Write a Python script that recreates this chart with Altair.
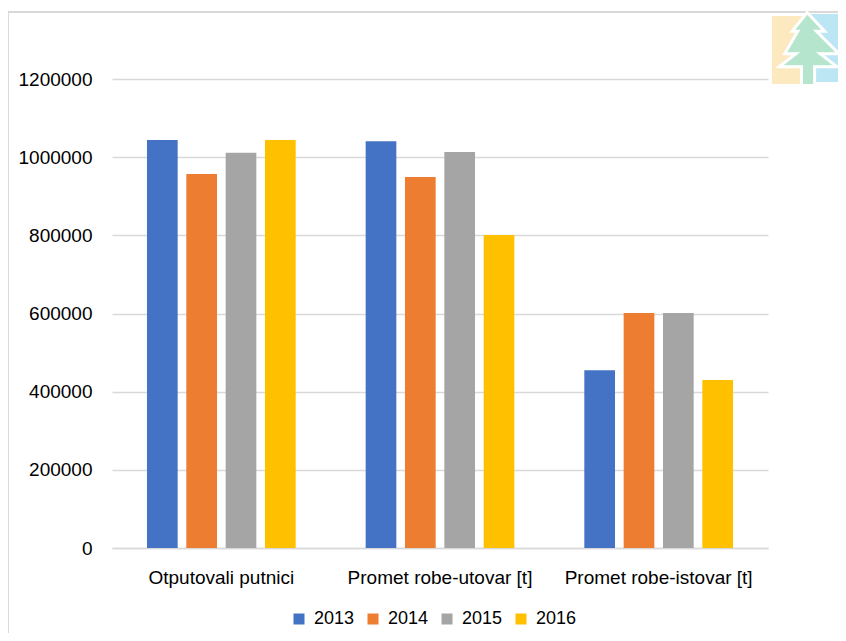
import altair as alt
import pandas as pd

categories = ["Otputovali putnici", "Promet robe-utovar [t]", "Promet robe-istovar [t]"]
years = ["2013", "2014", "2015", "2016"]
v2013 = [1044000, 1041000, 455000]
v2014 = [957000, 949000, 601000]
v2015 = [1011000, 1013000, 601000]
v2016 = [1044000, 801000, 430000]
colors = ["#4472C4", "#ED7D31", "#A5A5A5", "#FFC000"]
y_ticks = [0, 200000, 400000, 600000, 800000, 1000000, 1200000]

rows = []
for yr, vals in zip(years, [v2013, v2014, v2015, v2016]):
    for c, v in zip(categories, vals):
        rows.append({"category": c, "year": yr, "value": v})
df = pd.DataFrame(rows)

FONT = "Liberation Sans, Arial, sans-serif"
GRID = "#d9d9d9"

one = pd.DataFrame({"a": [0]})

border = alt.Chart(one).mark_rect(fillOpacity=0, stroke=GRID, strokeWidth=2).encode(
    x=alt.value(-104), x2=alt.value(800), y=alt.value(-67), y2=alt.value(700)
)

logo_beige = alt.Chart(one).mark_rect(color="#fde9bf").encode(
    x=alt.value(660), x2=alt.value(690), y=alt.value(-63), y2=alt.value(5)
)
logo_blue = alt.Chart(one).mark_rect(color="#bde6f5").encode(
    x=alt.value(698), x2=alt.value(770), y=alt.value(-65), y2=alt.value(3)
)
tree_path = ("M-0.05,-1 L0.42,-0.5 L0.2,-0.5 L0.8,0.1 L0.3,0.1 L0.75,0.45 L0.15,0.45 "
             "L0.15,0.95 L-0.2,0.95 L-0.2,0.45 L-0.8,0.45 L-0.35,0.1 L-0.65,0.1 "
             "L-0.3,-0.5 L-0.45,-0.5 Z")
logo_tree = alt.Chart(one).mark_point(
    shape=tree_path, filled=True, fill="#b5e5cc", stroke="white", strokeWidth=3, opacity=1
).encode(x=alt.value(697), y=alt.value(-29), size=alt.value(5600))

bars = alt.Chart(df).mark_bar().encode(
    x=alt.X(
        "category:N", sort=categories, title=None,
        scale=alt.Scale(paddingInner=0.32, paddingOuter=0.16),
        axis=alt.Axis(labelAngle=0, ticks=False, domainColor=GRID, domainWidth=1.5,
                      labelFontSize=19, labelPadding=20, labelColor="#000", labelLimit=0,
                      labelFont=FONT, grid=False),
    ),
    xOffset=alt.XOffset("year:N", sort=years, scale=alt.Scale(paddingInner=0.22)),
    y=alt.Y(
        "value:Q", scale=alt.Scale(domain=[0, 1200000]),
        axis=alt.Axis(values=y_ticks, format="d", title=None, domain=False, ticks=False,
                      gridColor=GRID, gridWidth=1.5, labelFontSize=19, labelPadding=20,
                      labelFont=FONT, labelColor="#000"),
    ),
    color=alt.Color(
        "year:N", sort=years, scale=alt.Scale(domain=years, range=colors),
        legend=alt.Legend(title=None, orient="none", legendX=178, legendY=531,
                          direction="horizontal", symbolType="square", symbolSize=121,
                          labelFontSize=18, labelFont=FONT, labelColor="#000",
                          columnPadding=9, labelOffset=6, symbolStrokeWidth=0),
    ),
)

chart = alt.layer(border, logo_beige, logo_blue, logo_tree, bars).properties(
    width=656, height=469,
    padding={"left": 104, "top": 71, "right": 70, "bottom": 85},
    autosize=alt.AutoSizeParams(type="none"),
    background="white",
).configure_view(strokeWidth=0)

chart.save("out.html", embed_options={"renderer": "svg", "actions": False})
